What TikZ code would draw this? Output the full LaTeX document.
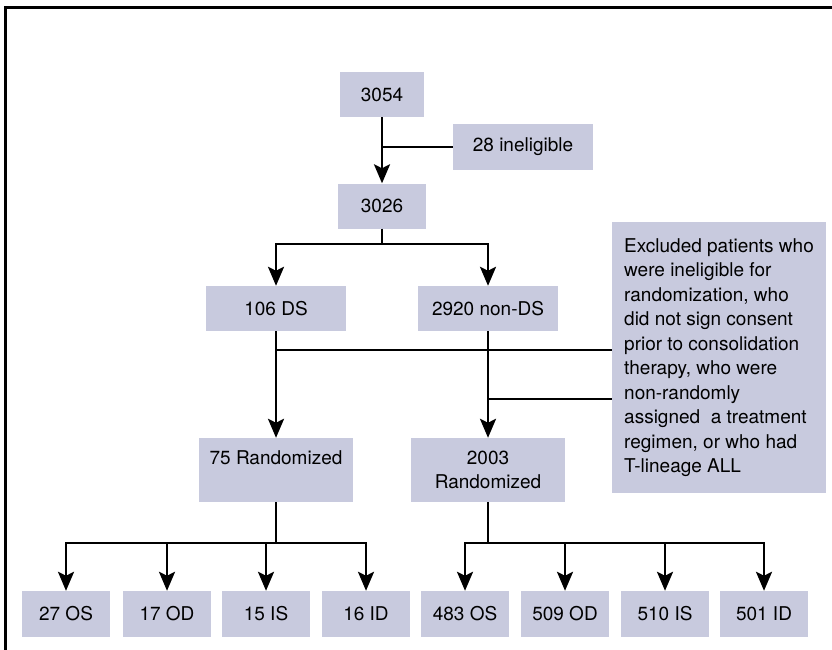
\documentclass[tikz,border=0pt]{standalone}
\usepackage{fontspec}
\setmainfont{TeX Gyre Heros}
\usetikzlibrary{arrows.meta}
\definecolor{boxfill}{RGB}{200,202,222}
\tikzset{
  box/.style={fill=boxfill, inner sep=0pt, minimum height=45pt, align=center,
    font=\fontsize{19}{24.5}\selectfont},
  link/.style={line width=2.8pt},
  arr/.style={link, -{Stealth[length=19pt,width=16pt,inset=4pt]}},
}

\begin{document}
\begin{tikzpicture}[x=1pt,y=-1pt]
  \useasboundingbox (0,0) rectangle (832,650);
  \draw[line width=3pt] (832,8) -- (5,8) -- (5,650);

  % top of the flow
  \node[box, minimum width=84pt] (n3054) at (382,94.5) {3054};
  \node[box, minimum width=140pt] (inel) at (523,147) {28 ineligible};
  \node[box, minimum width=88pt] (n3026) at (382,206) {3026};
  \node[box, minimum width=140pt] (ds) at (276,308.5) {106 DS};
  \node[box, minimum width=140pt] (nonds) at (488,308.5) {2920 non-DS};
  \node[box, minimum width=214pt, minimum height=271pt, align=left] (excl) at (719,357.5)
    {Excluded patients who\\ were ineligible for\\ randomization, who\\ did not sign consent\\
     prior to consolidation\\ therapy, who were\\ non-randomly\\ assigned~ a treatment\\
     regimen, or who had\\ T-lineage ALL};
  \node[box, minimum width=154pt, minimum height=64pt] (rand75) at (276,470) {75 Randomized\\ \mbox{}};
  \node[box, minimum width=154pt, minimum height=64pt] (rand2003) at (488,470) {2003\\ Randomized};

  % arms
  \foreach \x/\t [count=\i] in {66/27 OS, 167/17 OD, 266/15 IS, 366/16 ID,
      465/483 OS, 565/509 OD, 665/510 IS, 764/501 ID}
    \node[box, minimum width=88pt, minimum height=46pt] (arm\i) at (\x,614) {\t};

  \coordinate (split1) at (382,244);
  \coordinate (split75) at (276,543);
  \coordinate (split2003) at (488,543);

  \draw[arr] (n3054) -- (n3026);
  \draw[link] (inel.west) -- (inel.west -| n3054);
  \draw[link] (n3026) -- (split1);
  \draw[arr] (split1) -| (ds);
  \draw[arr] (split1) -| (nonds);
  \draw[arr] (ds) -- (rand75);
  \draw[arr] (nonds) -- (rand2003);
  \draw[link] (excl.west |- 0,350) -- (ds.south |- 0,350);
  \draw[link] (excl.west |- 0,399) -- (nonds.south |- 0,399);

  \draw[link] (rand75) -- (split75);
  \draw[link] (rand2003) -- (split2003);
  \foreach \i in {1,...,4}
    \draw[arr] (split75) -| (arm\i);
  \foreach \i in {5,...,8}
    \draw[arr] (split2003) -| (arm\i);
\end{tikzpicture}
\end{document}
